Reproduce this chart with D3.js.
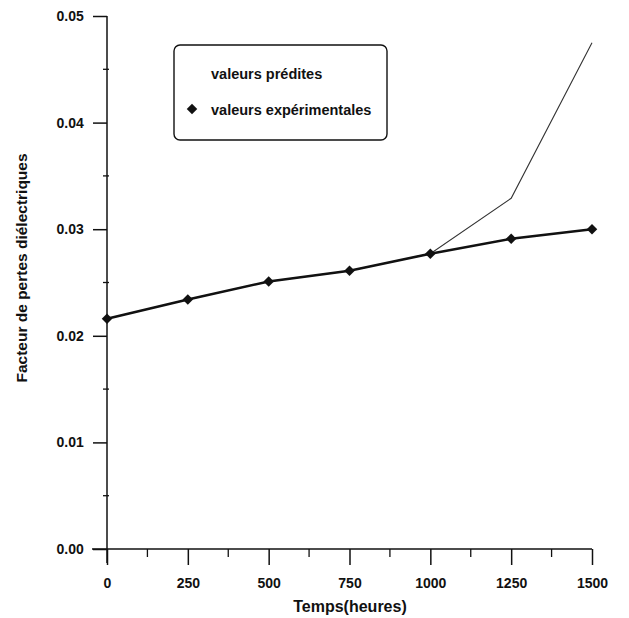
<!DOCTYPE html>
<html>
<head>
    <script src="https://cdnjs.cloudflare.com/ajax/libs/d3/7.8.5/d3.min.js"></script>
    <style>
        body { margin: 0; background: #fff; }
        text { font-family: "Liberation Sans", Arial, sans-serif; font-weight: bold; fill: #111; }
        .domain, .tick line { stroke: #111; }
    </style>
</head>
<body>
    <svg id="chart" width="629" height="618"></svg>
    <script>
        // data
        const hours = [0, 250, 500, 750, 1000, 1250, 1500];
        const experimental = [0.0216, 0.0234, 0.0251, 0.0261, 0.0277, 0.0291, 0.0300];
        const predicted = [0.0216, 0.0234, 0.0251, 0.0261, 0.0277, 0.0329, 0.0475];
        const yTicks = [0, 0.01, 0.02, 0.03, 0.04, 0.05];
        const xTicks = [0, 250, 500, 750, 1000, 1250, 1500];
        const legendLabels = ["valeurs prédites", "valeurs expérimentales"];

        const svg = d3.select("#chart");
        const plotLeft = 107, plotRight = 592, plotTop = 16, plotBottom = 549;

        const x = d3.scaleLinear().domain([0, 1500]).range([plotLeft, plotRight]);
        const y = d3.scaleLinear().domain([0, 0.05]).range([plotBottom, plotTop]);

        // x axis: major ticks down, minor ticks in between
        const xAxis = svg.append("g")
            .attr("transform", `translate(0,${plotBottom})`)
            .call(d3.axisBottom(x).tickValues(xTicks).tickSize(16).tickSizeOuter(0).tickFormat(d3.format("d")));
        xAxis.select(".domain").attr("d", `M${plotLeft - 15},0H${plotRight}`).attr("stroke-width", 1.3);
        xAxis.selectAll(".tick text").attr("font-size", 14).attr("dy", "1.45em");
        xAxis.selectAll(".tick line").attr("stroke-width", 1.5);
        svg.append("g")
            .attr("transform", `translate(0,${plotBottom})`)
            .selectAll("line")
            .data(d3.range(125, 1500, 250))
            .enter().append("line")
            .attr("x1", d => x(d)).attr("x2", d => x(d))
            .attr("y1", 0).attr("y2", 8)
            .attr("stroke", "#111").attr("stroke-width", 1.3);

        // y axis
        const yAxis = svg.append("g")
            .attr("transform", `translate(${plotLeft},0)`)
            .call(d3.axisLeft(y).tickValues(yTicks).tickSize(14).tickSizeOuter(0).tickFormat(d3.format(".2f")));
        yAxis.select(".domain").attr("d", `M0,${plotBottom + 14}V${plotTop}`).attr("stroke-width", 1.5);
        yAxis.selectAll(".tick text").attr("font-size", 14).attr("dx", "-0.45em");
        yAxis.selectAll(".tick line").attr("stroke-width", 1.5);
        svg.append("g")
            .selectAll("line")
            .data(d3.range(0.005, 0.05, 0.01))
            .enter().append("line")
            .attr("x1", plotLeft - 4).attr("x2", plotLeft + 2)
            .attr("y1", d => y(d)).attr("y2", d => y(d))
            .attr("stroke", "#111").attr("stroke-width", 1.3);

        // axis titles
        svg.append("text")
            .attr("x", 350).attr("y", 612)
            .attr("text-anchor", "middle").attr("font-size", 16)
            .text("Temps(heures)");
        svg.append("text")
            .attr("transform", "translate(27,268) rotate(-90)")
            .attr("text-anchor", "middle").attr("font-size", 15.5)
            .text("Facteur de pertes diélectriques");

        const line = d3.line().x(d => x(d[0])).y(d => y(d[1]));

        // predicted: thin line
        svg.append("path")
            .datum(d3.zip(hours, predicted))
            .attr("d", line)
            .attr("fill", "none").attr("stroke", "#333").attr("stroke-width", 1.1);

        // experimental: thick line with diamonds
        svg.append("path")
            .datum(d3.zip(hours, experimental))
            .attr("d", line)
            .attr("fill", "none").attr("stroke", "#111").attr("stroke-width", 2.6);
        const diamond = d3.symbol().type(d3.symbolDiamond2).size(70);
        svg.append("g")
            .selectAll("path")
            .data(d3.zip(hours, experimental))
            .enter().append("path")
            .attr("d", diamond)
            .attr("transform", d => `translate(${x(d[0])},${y(d[1])})`)
            .attr("fill", "#111");

        // legend
        const legend = svg.append("g");
        legend.append("rect")
            .attr("x", 174).attr("y", 45)
            .attr("width", 213).attr("height", 95)
            .attr("rx", 6)
            .attr("fill", "none").attr("stroke", "#111").attr("stroke-width", 1.4);
        legend.selectAll("text")
            .data(legendLabels)
            .enter().append("text")
            .attr("x", 211)
            .attr("y", (d, i) => 79 + i * 36)
            .attr("font-size", 14.5)
            .text(d => d);
        legend.append("path")
            .attr("d", diamond)
            .attr("transform", "translate(192,109)")
            .attr("fill", "#111");
    </script>
</body>
</html>
